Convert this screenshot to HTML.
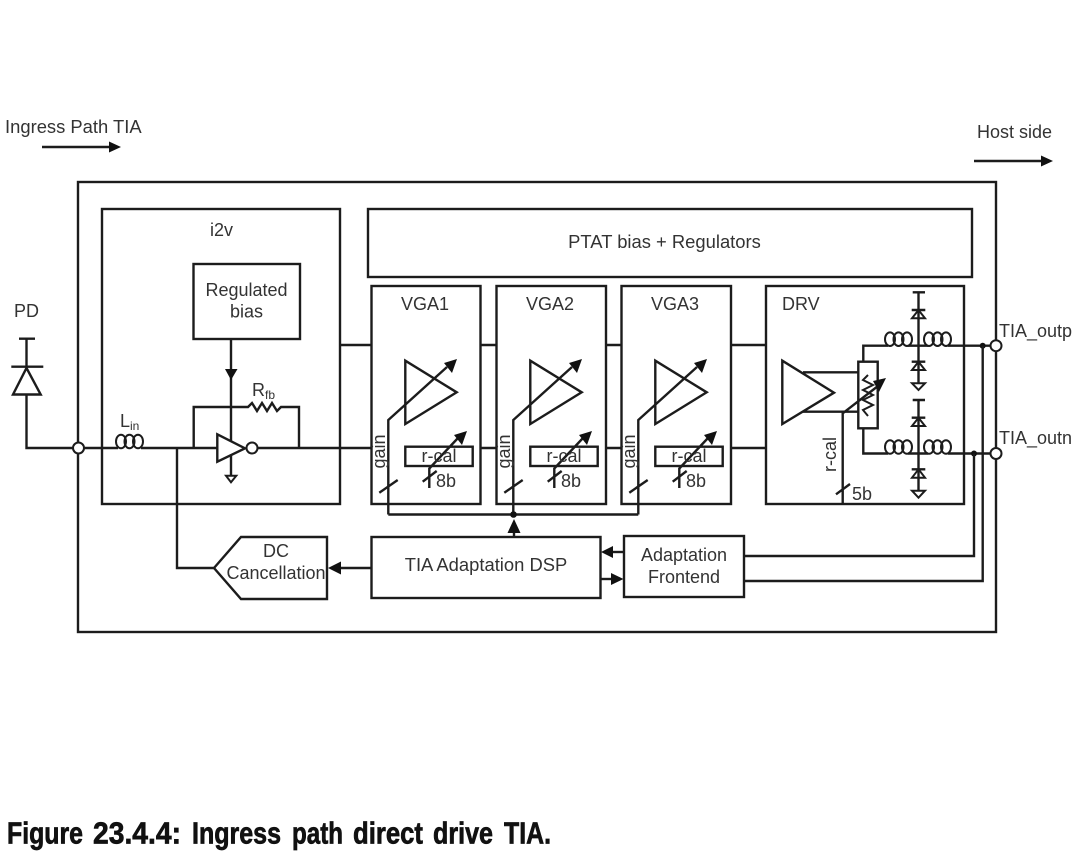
<!DOCTYPE html>
<html><head><meta charset="utf-8"><style>
html,body{margin:0;padding:0;background:#fff}
svg{display:block}
text{font-family:"Liberation Sans",sans-serif;fill:#333;font-size:18px}
.l{font-size:18.4px}
.cap{font-size:31px;font-weight:bold;fill:#111;stroke:#111;stroke-width:.7}
.w{fill:none;stroke:#1c1c1c;stroke-width:2.4}
.t{fill:none;stroke:#1c1c1c;stroke-width:2}
.f{fill:#111;stroke:none}
.c{fill:#fff;stroke:#1c1c1c;stroke-width:2}
</style></head><body>
<svg width="1080" height="857" viewBox="0 0 1080 857" xmlns="http://www.w3.org/2000/svg">
<defs>
<g id="coil"><ellipse cx="5" cy="-6.5" rx="5" ry="6.8" class="t"/><ellipse cx="13.5" cy="-6.5" rx="5" ry="6.8" class="t"/><ellipse cx="22" cy="-6.5" rx="5" ry="6.8" class="t"/></g>
<g id="vga">
<path class="w" d="M405.3 360.7L456.7 392.3L405.3 424Z"/>
<path class="w" d="M388.3 514.5V420L447 367"/>
<path class="f" d="M457 359L444 363L452 373Z"/>
<path class="w" d="M379.3 492.7L397.7 480"/>
<rect class="w" x="405.3" y="446.7" width="67.4" height="19.3"/>
<path class="w" d="M429.3 488V468.5L458 438"/>
<path class="f" d="M467 431L454 435L462 445Z"/>
<path class="w" d="M422.7 481.7L436.7 471"/>
</g>
</defs>

<!-- main boxes -->
<rect class="w" x="78" y="182" width="918" height="450"/>
<rect class="w" x="102" y="209" width="238" height="295"/>
<rect class="w" x="368" y="209" width="604" height="68"/>
<rect class="w" x="371.5" y="286" width="109" height="218"/>
<rect class="w" x="496.5" y="286" width="109.5" height="218"/>
<rect class="w" x="621.5" y="286" width="109.5" height="218"/>
<rect class="w" x="766" y="286" width="198" height="218"/>
<rect class="w" x="193.5" y="264" width="106.5" height="75"/>

<!-- interstage wires -->
<path class="w" d="M340 345H371M480 345H496M606 345H621M731 345H766"/>
<path class="w" d="M258 448H371M480 448H496M606 448H621M731 448H766"/>

<!-- PD -->
<path class="w" d="M19 338.7H35M26.5 338.7V367M11.3 366.7H43.3"/>
<path class="w" d="M26.5 368L40.7 394.5H13Z"/>
<path class="w" d="M26.5 394.5V448H73"/>
<circle class="c" cx="78.5" cy="448" r="5.5"/>
<path class="w" d="M84 448H118M141 448H217"/>
<use href="#coil" x="116" y="448"/>
<path class="w" d="M177 448V568H214"/>

<!-- inverter and feedback -->
<path class="w" d="M217.3 434.3L245 448.3L217.3 461.7Z"/>
<circle class="c" cx="252" cy="448" r="5.5"/>
<path class="w" d="M193.7 448V407H248L252 403L257 411L262 403L267 411L272 403L277 411L281 407H299V448"/>
<path class="w" d="M231 339V441M231 455V475"/>
<path class="f" d="M225 369H237.5L231 380Z"/>
<path class="t" d="M226 475.7H236.3L231 482.3Z"/>

<!-- VGA -->
<use href="#vga"/>
<use href="#vga" x="125"/>
<use href="#vga" x="250"/>
<path class="w" d="M388.3 514.5H638.3"/>
<circle class="f" cx="513.5" cy="514.5" r="3.3"/>

<!-- DRV -->
<path class="w" d="M782.3 360.7L834 392.7L782.3 424Z"/>
<path class="w" d="M803 372.3H858M803 411.7H858"/>
<rect class="w" x="858.3" y="361.7" width="19.4" height="66.6"/>
<path class="t" d="M868 375L863 380L873 385L863 390L873 395L863 400L873 405L863 410L868 416"/>
<path class="w" d="M842.7 504V413.3L878 386"/>
<path class="f" d="M886 378L873 381L879 392Z"/>
<path class="w" d="M836 494.3L850 484"/>
<path class="w" d="M863.3 361.7V345.7H888M948 345.7H990M863.3 428.3V453.5H888M948 453.5H990"/>
<path class="w" d="M908 345.7H928M908 453.5H928"/>
<use href="#coil" x="885" y="345.7"/>
<use href="#coil" x="924" y="345.7"/>
<use href="#coil" x="885" y="453.5"/>
<use href="#coil" x="924" y="453.5"/>
<path class="w" d="M912.7 292.3H925M918.5 292.3V383M911.7 310H925.3M911.7 361.7H925.3"/>
<path class="t" d="M918.5 310L912 318.3H925Z"/>
<path class="t" d="M918.5 361.7L912 370H925Z"/>
<path class="t" d="M912 383.3H925L918.5 390Z"/>
<path class="w" d="M912.7 400H925M918.5 400V490.7M911.7 417.7H925.3M911.7 469.3H925.3"/>
<path class="t" d="M918.5 417.7L912 426H925Z"/>
<path class="t" d="M918.5 469.3L912 477.7H925Z"/>
<path class="t" d="M912 490.7H925L918.5 497.7Z"/>

<!-- outputs -->
<circle class="c" cx="996" cy="345.7" r="5.5"/>
<circle class="c" cx="996" cy="453.5" r="5.5"/>
<circle class="f" cx="982.7" cy="345.7" r="3"/>
<circle class="f" cx="974" cy="453.5" r="3"/>
<path class="w" d="M744 556H974V453.5M744 581H982.7V345.7"/>

<!-- lower blocks -->
<path class="w" d="M214 568L241 537H327V599H241Z"/>
<rect class="w" x="371.5" y="537" width="229" height="61"/>
<rect class="w" x="624" y="536" width="120" height="61"/>
<path class="w" d="M371 568H340"/>
<path class="f" d="M328 568L341 561.5V574.5Z"/>
<path class="w" d="M514 537V530"/>
<path class="f" d="M514 519L507.5 533H520.5Z"/>
<path class="w" d="M624 552H612"/>
<path class="f" d="M601 552L613 546V558Z"/>
<path class="w" d="M601 579H612"/>
<path class="f" d="M623.5 579L611 573V585Z"/>

<!-- top arrows -->
<path class="w" d="M42 147H110"/>
<path class="f" d="M121 147L109 141.5V152.5Z"/>
<path class="w" d="M974 161H1042"/>
<path class="f" d="M1053 161L1041 155.5V166.5Z"/>

<!-- labels -->
<text class="l" x="5" y="133">Ingress Path TIA</text>
<text x="977" y="138">Host side</text>
<text x="210" y="236">i2v</text>
<text class="l" x="664.5" y="248" text-anchor="middle">PTAT bias + Regulators</text>
<text x="14" y="317">PD</text>
<text x="246.5" y="296" text-anchor="middle">Regulated</text>
<text x="246.5" y="317.5" text-anchor="middle">bias</text>
<text x="252" y="396">R<tspan font-size="12" dy="3">fb</tspan></text>
<text x="120" y="427">L<tspan font-size="12" dy="3">in</tspan></text>
<text x="401" y="310">VGA1</text>
<text x="526" y="310">VGA2</text>
<text x="651" y="310">VGA3</text>
<text x="782" y="310">DRV</text>
<text x="999" y="337">TIA_outp</text>
<text x="999" y="444">TIA_outn</text>
<text transform="translate(385 468.5) rotate(-90)">gain</text>
<text transform="translate(510 468.5) rotate(-90)">gain</text>
<text transform="translate(635 468.5) rotate(-90)">gain</text>
<text x="439" y="462" text-anchor="middle">r-cal</text>
<text x="564" y="462" text-anchor="middle">r-cal</text>
<text x="689" y="462" text-anchor="middle">r-cal</text>
<text x="436" y="487">8b</text>
<text x="561" y="487">8b</text>
<text x="686" y="487">8b</text>
<text transform="translate(836 472) rotate(-90)">r-cal</text>
<text x="852" y="500">5b</text>
<text x="276" y="557" text-anchor="middle">DC</text>
<text x="276" y="579" text-anchor="middle">Cancellation</text>
<text class="l" x="486" y="571" text-anchor="middle">TIA Adaptation DSP</text>
<text x="684" y="561" text-anchor="middle">Adaptation</text>
<text x="684" y="583" text-anchor="middle">Frontend</text>
<text class="cap" x="7" y="843.5" textLength="76" lengthAdjust="spacingAndGlyphs">Figure</text>
<text class="cap" x="93" y="843.5" textLength="88" lengthAdjust="spacingAndGlyphs">23.4.4:</text>
<text class="cap" x="192" y="843.5" textLength="89" lengthAdjust="spacingAndGlyphs">Ingress</text>
<text class="cap" x="292" y="843.5" textLength="51" lengthAdjust="spacingAndGlyphs">path</text>
<text class="cap" x="353" y="843.5" textLength="70" lengthAdjust="spacingAndGlyphs">direct</text>
<text class="cap" x="433" y="843.5" textLength="60" lengthAdjust="spacingAndGlyphs">drive</text>
<text class="cap" x="504" y="843.5" textLength="47" lengthAdjust="spacingAndGlyphs">TIA.</text>
</svg>
</body></html>
